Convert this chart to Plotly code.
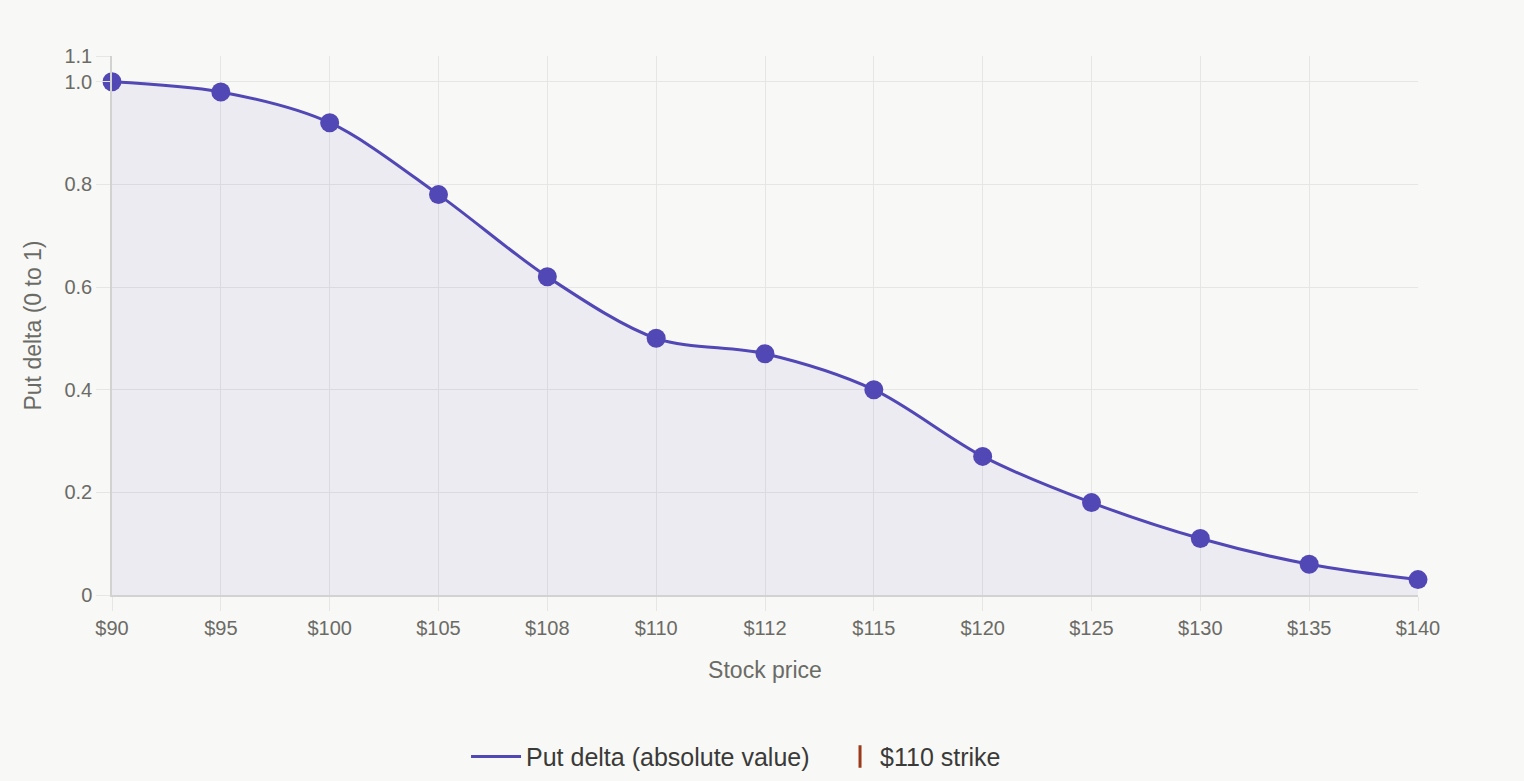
import plotly.graph_objects as go

# stock prices (categories) and absolute put delta at each
prices = ["$90", "$95", "$100", "$105", "$108", "$110", "$112",
          "$115", "$120", "$125", "$130", "$135", "$140"]
put_delta = [1.00, 0.98, 0.92, 0.78, 0.62, 0.50, 0.47,
             0.40, 0.27, 0.18, 0.11, 0.06, 0.03]
series_label = "Put delta (absolute value)"
strike_label = "$110 strike"

y_ticks = [0, 0.2, 0.4, 0.6, 0.8, 1.0, 1.05]
y_ticktext = ["0", "0.2", "0.4", "0.6", "0.8", "1.0", "1.1"]

LINE = "#5147b5"
STRIKE = "#9a3a1a"
GRID = "#e6e6e4"
TEXT = "#6b6b66"
BG = "#f8f8f6"
FONT = "Liberation Sans, Arial, sans-serif"

xs = list(range(len(prices)))

fig = go.Figure()
fig.add_trace(go.Scatter(
    x=xs, y=put_delta,
    mode="lines+markers",
    showlegend=False,
    line=dict(color=LINE, width=3, shape="spline", smoothing=0.9),
    marker=dict(color=LINE, size=19),
    fill="tozeroy",
    fillcolor="rgba(81,71,181,0.07)",
    cliponaxis=False,
))
# legend entries only (two legends so each can have its own symbol width)
fig.add_trace(go.Scatter(
    x=[None], y=[None], mode="lines", name=series_label,
    line=dict(color=LINE, width=3), legend="legend",
))
fig.add_trace(go.Scatter(
    x=[None], y=[None], mode="markers", name=strike_label,
    marker=dict(symbol="line-ns", size=24, line=dict(color=STRIKE, width=3)),
    legend="legend2",
))

axis_common = dict(
    showgrid=True, gridcolor=GRID, gridwidth=1,
    ticks="outside", ticklen=14, tickcolor=GRID,
    showline=True, linecolor="#d2d2d0", linewidth=1.5,
    zeroline=False,
    tickfont=dict(size=20, color=TEXT),
)
legend_common = dict(
    orientation="h", xref="container", yref="container",
    xanchor="left", y=0.031, yanchor="middle",
    font=dict(size=25, color="#3a3a38"),
    bgcolor="rgba(0,0,0,0)",
)

fig.update_layout(
    width=1524, height=781,
    paper_bgcolor=BG, plot_bgcolor=BG,
    margin=dict(l=112, r=106, t=56, b=186, autoexpand=False),
    font=dict(family=FONT, color=TEXT, size=20),
    showlegend=True,
    legend=dict(x=0.3058, itemwidth=50, **legend_common),
    legend2=dict(x=0.5512, itemwidth=30, **legend_common),
    xaxis=dict(
        range=[0, len(prices) - 1],
        tickmode="array", tickvals=xs, ticktext=prices,
        title=dict(text="Stock price", font=dict(size=23, color=TEXT), standoff=24),
        **axis_common,
    ),
    yaxis=dict(
        range=[0, 1.05],
        tickmode="array", tickvals=y_ticks, ticktext=y_ticktext,
        title=dict(text="Put delta (0 to 1)", font=dict(size=23, color=TEXT), standoff=16),
        **axis_common,
    ),
)

fig.write_html(
    "out.html",
    config={"displayModeBar": False},
    post_script="document.body.style.margin='0';document.body.style.background='%s';" % BG,
)
